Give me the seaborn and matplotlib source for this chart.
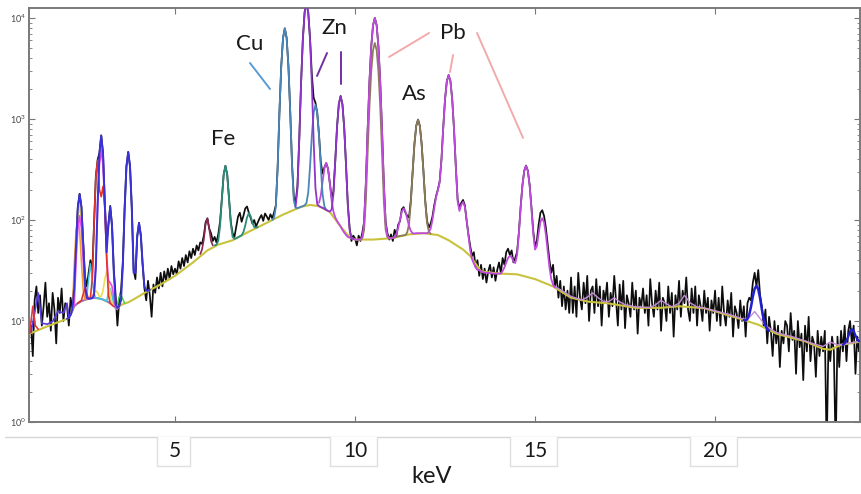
import numpy as np
import matplotlib
matplotlib.use("Agg")
import matplotlib.pyplot as plt
import matplotlib.transforms as mtransforms
from matplotlib.patches import Rectangle
from matplotlib.lines import Line2D
import seaborn as sns

STEP = 0.05  # keV between listed channels

# measured spectrum, 1.00 .. 24.00 keV every 0.05 keV (one row per keV)
counts = [
    9, 4.5, 16, 22, 12, 18, 9, 14, 24, 11, 15, 8, 19, 13, 6, 17, 12, 21, 10, 15,
    14, 9, 17, 13, 24, 58, 135, 182, 136, 60, 28, 22, 30, 40, 30, 90, 270, 395, 460, 690,
    460, 150, 60, 92, 138, 88, 32, 18, 9, 16, 20, 38, 130, 340, 472, 340, 130, 32, 26, 68,
    94, 70, 36, 21, 16, 25, 18, 11, 23, 19, 27, 21, 30, 22, 31, 25, 33, 26, 35, 29,
    33, 29, 39, 33, 42, 35, 45, 38, 49, 42, 52, 45, 56, 50, 60, 58, 70, 95, 104, 82,
    74, 62, 68, 60, 72, 96, 160, 280, 344, 282, 165, 95, 74, 68, 86, 108, 118, 96, 110, 130,
    136, 118, 105, 92, 100, 86, 95, 104, 112, 98, 116, 108, 100, 114, 104, 118, 140, 330, 1160, 3310,
    6350, 7900, 6360, 3330, 1180, 360, 170, 150, 215, 620, 2230, 6120, 11400, 14050, 11400, 6316, 2770, 1625, 1450, 1155,
    693, 370, 288, 333, 366, 322, 231, 168, 191, 381, 835, 1410, 1690, 1400, 812, 350, 142, 84, 62, 70,
    66, 56, 70, 62, 74, 95, 230, 780, 2320, 5210, 8500, 10020, 8510, 5220, 2320, 780, 232, 96, 74, 64,
    72, 62, 80, 70, 90, 98, 128, 134, 118, 110, 106, 156, 302, 566, 856, 986, 856, 566, 304, 155,
    98, 84, 92, 108, 140, 172, 200, 240, 395, 820, 1570, 2370, 2725, 2370, 1555, 785, 335, 160, 130, 148,
    158, 140, 98, 72, 55, 44, 48, 34, 40, 28, 36, 26, 33, 24, 31, 36, 27, 34, 25, 32,
    38, 30, 42, 36, 48, 52, 45, 50, 38, 42, 48, 75, 135, 222, 308, 346, 308, 222, 134, 78,
    55, 62, 90, 118, 125, 110, 84, 58, 40, 30, 36, 22, 28, 17, 25, 14, 22, 13, 20, 12,
    27, 12, 22, 11, 30, 17, 13, 24, 15, 28, 10, 20, 22, 12, 26, 14, 22, 9, 20, 16,
    24, 11, 19, 14, 28, 16, 9, 23, 13, 25, 8.5, 18, 15, 11, 24, 13, 20, 7.5, 17, 14,
    21, 12, 18, 9, 26, 15, 11, 20, 13, 24, 8, 17, 15, 10, 22, 12, 19, 7, 18, 13,
    25, 11, 20, 15, 27, 13, 10, 21, 12, 22, 9, 18, 14, 10, 20, 12, 17, 8, 16, 12,
    20, 10, 17, 9, 22, 12, 9, 16, 11, 19, 7, 14, 12, 8.5, 16, 10, 14, 7, 15, 17,
    16, 24, 30, 22, 32, 18, 14, 9, 13, 6, 11, 8, 4.5, 10, 6, 9, 3.5, 8, 6, 10,
    9, 5, 12, 6.5, 8, 3, 10, 5.5, 7.5, 2.6, 9, 5, 11, 4, 7, 6, 2.8, 8, 4.5, 7,
    5, 8, 0.5, 6, 4, 7, 5, 0.5, 7, 3.5, 8, 5, 9, 4, 8, 10, 6, 9, 3, 7,
    5,
]

# fitted continuum
bg_kev = [0.9, 1.0, 1.5, 2.0, 2.05, 2.1, 2.2, 2.3, 2.4, 2.5,
          2.6, 2.7, 2.8, 2.9, 3.0, 3.1, 3.2, 3.3, 3.35, 3.38,
          3.45, 3.5, 3.6, 3.7, 3.8, 4.0, 4.2, 4.6, 5.0, 5.5,
          5.9, 6.2, 6.6, 7.0, 7.5, 8.0, 8.5, 8.75, 9.0, 9.3,
          9.6, 9.86, 10.0, 10.5, 11.0, 11.5, 11.9, 12.3, 12.6, 13.0,
          13.2, 13.5, 14.0, 14.5, 15.0, 15.5, 16.0, 16.5, 17.0, 17.8,
          18.5, 19.0, 19.7, 20.0, 20.7, 21.2, 21.7, 22.0, 22.5, 23.0,
          23.2, 23.5, 24.1]
bg_counts = [7.3, 7.6, 9.0, 10.5, 10.8, 11.5, 14.0, 15.0, 15.7, 16.2,
             16.6, 16.9, 16.9, 16.7, 16.3, 15.7, 15.0, 14.2, 13.5, 13.1,
             14.0, 14.4, 14.9, 15.3, 16.0, 17.6, 19.4, 23, 28, 38,
             50, 57, 63, 75, 92, 113, 135, 141, 137, 120,
             86, 67, 64, 64, 66, 72, 74, 71, 63, 51,
             44, 31, 29.5, 29, 26, 22, 17, 15.5, 15, 13.5,
             13.5, 14, 13.4, 12.5, 10.5, 9.2, 7.5, 7.0, 6.3, 5.3,
             5.2, 5.8, 6.3]

# low energy scatter arc
arc_kev = [2.05, 2.1, 2.2, 2.3, 2.4, 2.5, 2.6, 2.7, 2.8, 2.9, 3.0, 3.1, 3.2, 3.3, 3.35, 3.38, 3.45]
arc_counts = [10.8, 11.5, 14.0, 15.0, 15.7, 16.2, 16.6, 16.9, 16.9, 16.7, 16.3, 15.7, 15.0, 14.2, 13.5, 13.1, 14.0]

# small low energy fits below 2 keV
violet_kev = [1.0, 1.1, 1.2, 1.3, 1.45, 1.6, 1.75, 1.9, 2.0, 2.05]
violet_counts = [7.7, 12, 19, 9.5, 9.3, 9.9, 12.5, 12, 15, 10.8]
red2_kev = [0.96, 1.05, 1.12, 1.2]
red2_counts = [7.5, 14, 9, 8.3]

# element fits, listed every 0.05 keV from a start energy
blue_start = 2.00
blue_counts = [10.5, 10.8, 11.5, 13, 21, 55, 132, 180, 133, 57, 23, 17, 16.6, 16.7, 16.8, 18,
               33, 144, 457, 681, 456, 143, 48, 89, 135, 87, 30, 14.6, 13.5, 14, 16, 35,
               128, 337, 470, 338, 129, 30, 30, 70, 93, 71, 37, 22, 20, 19.9, 20.4]
red_start = 2.30
red_counts = [15, 15.5, 16, 18.5, 21, 18.5, 16.5, 17, 26, 89, 265, 392, 200, 170, 215, 135,
              42, 18, 15, 14.4, 13.9]
magenta_start = 2.20
magenta_counts = [14.2, 38, 82, 110, 83, 40, 20, 16.5, 16.6, 16.7, 16.9, 19, 38, 135, 353, 491,
                  352, 134, 45, 25, 24, 22, 17, 13.5]
yellow_start = 2.15
yellow_counts = [12.5, 19, 45, 103, 140, 104, 47, 22, 17, 16.6, 16.7, 17.5, 19, 20, 19, 17.5,
                 17.5, 20, 26, 31, 26, 18, 15, 14.2]
orange_start = 2.15
orange_counts = [12.5, 36, 78, 105, 79, 38, 20, 16.2]
cyan_start = 2.50
cyan_counts = [16.2, 17.5, 26, 37, 26, 18.5, 16.9, 16.8, 16.7, 16.5, 16.3, 16, 15.7, 19, 21, 18, 14.2]
green_start = 3.35
green_counts = [13.5, 14.5, 17.5, 18, 16.5, 15]
maroon_start = 5.70
maroon_counts = [46, 51, 64, 92, 103, 82, 62, 56]
fe_start = 6.10
fe_counts = [56, 57, 62, 86, 160, 278, 343, 279, 163, 91, 68, 65, 66, 67.5, 69, 70.5,
             76, 88, 106, 117, 109, 94, 85, 84, 85]
cu_start = 7.70
cu_counts = [100, 105, 134, 329, 1160, 3312, 6353, 7905, 6357, 3322, 1174, 347, 156, 132, 131, 133,
             135, 137, 140, 147, 187, 336, 685, 1148, 1378, 1146, 682, 329, 178, 136, 126]
zn_start = 8.35
zn_counts = [136, 202, 610, 2220, 6117, 11399, 14040, 11401, 6121, 2225, 616, 209, 144, 137, 134, 132,
             129, 126, 123, 121, 127, 180, 379, 831, 1407, 1686, 1395, 808, 346, 138, 79, 67, 65]
pb_start = 9.00
pb_counts = [148, 175, 242, 326, 366, 320, 230, 156, 121, 106, 98, 92, 86, 80, 75, 71, 68, 67, 66, 65,
             64, 64, 64, 64, 67, 90, 224, 772, 2310, 5203, 8493, 10004, 8493, 5204, 2311, 773, 225, 91, 69, 66,
             66, 66.5, 68, 73, 84, 101, 121, 130, 122, 103, 87, 78, 74, 73.5, 74, 74, 74, 74, 74, 74,
             74, 76, 82, 100, 131, 168, 196, 236, 391, 818, 1567, 2370, 2723, 2365, 1552, 783, 330, 153, 123, 141,
             151, 135, 101, 70, 50, 41, 37, 34, 32, 32, 31, 30.5, 30, 30, 30, 29.8, 29.6, 29.5, 29.5, 29.5,
             29.5, 29.4, 31.3, 34, 38, 42, 44, 43, 39, 37.5, 45, 72, 132, 220, 307, 344, 306, 219, 130, 73,
             51, 55, 74, 96, 104, 95, 72, 49, 34, 26, 23, 21.5]
as_start = 10.15
as_counts = [64, 66, 79, 154, 462, 1327, 2954, 4804, 5654, 4804, 2954, 1328, 463, 155, 80, 68, 66, 66, 66.5, 67,
             68, 69, 69.5, 70, 70.5, 71, 75.5, 91, 150, 300, 564, 854, 984, 854, 564, 301, 151, 93, 77, 73]
hiblue_start = 20.80
hiblue_counts = [10.2, 10.1, 10.5, 11.6, 13.9, 17.5, 20.9, 22.3, 20.6, 16.9, 13.0, 10.4, 9.0, 8.3, 8.0]
hiblue2_start = 23.55
hiblue2_counts = [5.8, 6.0, 6.4, 7.0, 7.9, 8.3, 8.0, 7.2, 6.6, 6.3]

# faint high energy fit
lav_kev = [15.5, 15.8, 16.0, 16.3, 16.45, 16.6, 16.75, 16.9, 17.05, 17.2, 17.35, 17.5, 17.8,
           18.2, 18.35, 18.5, 18.65, 18.8, 19.0, 19.15, 19.3, 19.5, 19.7, 20.0, 20.4, 20.8,
           20.95, 21.1, 21.25, 21.4, 21.7, 22.2, 22.7, 23.0, 23.2, 23.4, 23.7, 24.05]
lav_counts = [22.5, 19.5, 17.5, 16.2, 17.2, 19.0, 17.0, 15.6, 15.6, 17.0, 15.5, 14.5, 13.8,
              13.6, 14.5, 16.0, 14.8, 13.8, 15.0, 18.0, 15.2, 13.8, 13.4, 12.6, 11.6, 10.4,
              10.8, 12.4, 10.6, 9.0, 7.7, 6.9, 6.0, 5.6, 6.2, 5.8, 6.0, 6.3]

xtick_vals = [5, 10, 15, 20]
labels = ["Cu", "Fe", "Zn", "Pb", "As"]


def chan(start, vals):
    return start + STEP * np.arange(len(vals))


sns.set_style("white")
plt.rcParams["font.family"] = ["Lato", "DejaVu Sans"]

fig = plt.figure(figsize=(8.61, 4.94), dpi=100)
ax = fig.add_axes([29 / 861, 1 - 422 / 494, (860.5 - 29) / 861, (422 - 8) / 494])
ax.set_yscale("log")

sns.lineplot(x=chan(1.0, counts), y=counts, color="#0d0d0d", linewidth=1.25, ax=ax, zorder=2)

curves = [
    (bg_kev, bg_counts, "#c8c23c", 1.5),
    (arc_kev, arc_counts, "#9a6cd3", 1.3),
    (violet_kev, violet_counts, "#5a3ae0", 1.2),
    (red2_kev, red2_counts, "#e03a3a", 1.2),
    (lav_kev, lav_counts, "#c48ad8", 1.0),
    (chan(cyan_start, cyan_counts), cyan_counts, "#3cc6e0", 1.1),
    (chan(green_start, green_counts), green_counts, "#46d046", 1.1),
    (chan(orange_start, orange_counts), orange_counts, "#f29a30", 1.1),
    (chan(yellow_start, yellow_counts), yellow_counts, "#f0dc50", 1.2),
    (chan(magenta_start, magenta_counts), magenta_counts, "#e64ce6", 1.2),
    (chan(red_start, red_counts), red_counts, "#e2352c", 1.2),
    (chan(blue_start, blue_counts), blue_counts, "#3a32d8", 1.4),
    (chan(maroon_start, maroon_counts), maroon_counts, "#8a2452", 1.2),
    (chan(fe_start, fe_counts), fe_counts, "#2b8c79", 1.3),
    (chan(as_start, as_counts), as_counts, "#8b7b5a", 1.3),
    (chan(pb_start, pb_counts), pb_counts, "#c04ade", 1.3),
    (chan(cu_start, cu_counts), cu_counts, "#4a86ba", 1.3),
    (chan(zn_start, zn_counts), zn_counts, "#8f35c9", 1.3),
    (chan(hiblue_start, hiblue_counts), hiblue_counts, "#1f1fcf", 1.8),
    (chan(hiblue2_start, hiblue2_counts), hiblue2_counts, "#1f1fcf", 1.6),
]
for z, (xs, ys, col, lw) in enumerate(curves):
    sns.lineplot(x=xs, y=ys, color=col, linewidth=lw, ax=ax, zorder=3 + z * 0.05)

ax.set_xlim(0.944, 24.04)
ax.set_ylim(1, 12560)
ax.set_xlabel("")
ax.set_ylabel("")
ax.set_xticks(xtick_vals)
ax.tick_params(axis="both", which="both", direction="in", top=True, right=True,
               bottom=True, left=True, colors="#777777", labelcolor="#444444")
ax.tick_params(axis="both", which="major", length=4, width=0.8)
ax.tick_params(axis="both", which="minor", length=2, width=0.6)
ax.tick_params(axis="x", labelbottom=False)
ax.tick_params(axis="y", labelsize=6.5, pad=2)
for s in ax.spines.values():
    s.set_color("#7a7a7a")
    s.set_linewidth(1.4)

# element labels with pointer lines
label_kev = [7.08, 6.33, 9.42, 12.72, 11.64]
label_cnt = [5530, 634, 7960, 7100, 1770]
for name, lx, ly in zip(labels, label_kev, label_cnt):
    ax.text(lx, ly, name, ha="center", va="center", fontsize=16, color="#1a1a1a", zorder=10)

pointers = [
    ([7.083, 7.639], [3585, 1982], "#5b9bd5"),
    ([9.222, 8.944], [4502, 2666], "#7030a0"),
    ([9.611, 9.611], [4607, 2222], "#7030a0"),
    ([12.056, 10.944], [7100, 4111], "#f2aaaa"),
    ([12.722, 12.639], [4303, 2918], "#f2aaaa"),
    ([13.389, 14.667], [7100, 649], "#f2aaaa"),
]
for px, py, col in pointers:
    ax.plot(px, py, color=col, linewidth=1.4, zorder=10)

# boxed tick labels under the axis
trans = mtransforms.blended_transform_factory(ax.transData, fig.transFigure)
top, bot = 1 - 437 / 494, 1 - 466 / 494
fig.add_artist(Line2D([0.006, 1.0], [top, top], transform=fig.transFigure, color="#d6d6d6", linewidth=1))
for t in xtick_vals:
    half = 0.46 if t < 10 else 0.65
    c = t - 0.04
    fig.add_artist(Rectangle((c - half, bot), 2 * half, top - bot, transform=trans,
                             facecolor="white", edgecolor="none", zorder=5))
    fig.add_artist(Line2D([c - half, c - half, c + half, c + half], [top, bot, bot, top],
                          transform=trans, color="#e0e0e0", linewidth=1, zorder=6))
    fig.text(t, 1 - 451 / 494, str(t), transform=trans, ha="center", va="center",
             fontsize=15, color="#1a1a1a", zorder=7)

fig.text(432 / 861, 1 - 476 / 494, "keV", ha="center", va="center", fontsize=17, color="#1a1a1a")

fig.savefig("out.png", dpi=100, facecolor="white")
